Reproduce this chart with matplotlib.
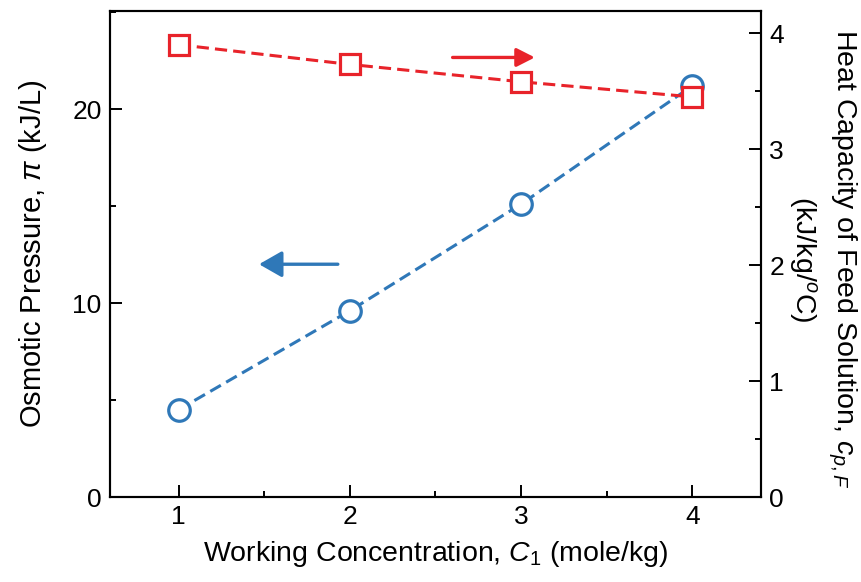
import matplotlib
matplotlib.use('Agg')
import matplotlib.pyplot as plt
from matplotlib.ticker import MultipleLocator

plt.rcParams['font.family'] = ['Liberation Sans', 'DejaVu Sans']
plt.rcParams['mathtext.fontset'] = 'custom'
plt.rcParams['mathtext.rm'] = 'Liberation Sans'
plt.rcParams['mathtext.it'] = 'Liberation Sans:italic'

# working concentration (mole/kg)
conc = [1, 2, 3, 4]
# osmotic pressure (kJ/L), left axis
osmotic = [4.5, 9.6, 15.1, 21.2]
# heat capacity of feed solution (kJ/kg/C), right axis
heat_cap = [3.90, 3.73, 3.58, 3.45]

blue = '#2f78b8'
red = '#e8232a'

fig = plt.figure(figsize=(8.62, 5.82), dpi=100)
ax = fig.add_axes([0.1276, 0.146, 0.7552, 0.835])
ax2 = ax.twinx()

ax.plot(conc, osmotic, color=blue, lw=2.2, dashes=(4, 2), marker='o', ms=15.5,
        mfc='white', mec=blue, mew=2.3)
ax2.plot(conc, heat_cap, color=red, lw=2.2, dashes=(4, 2), marker='s', ms=14.5,
         mfc='white', mec=red, mew=2.3)

ax.set_xlim(0.6, 4.4)
ax.set_ylim(0, 25.05)
ax2.set_ylim(0, 4.19)

ax.xaxis.set_major_locator(MultipleLocator(1))
ax.xaxis.set_minor_locator(MultipleLocator(0.5))
ax.yaxis.set_major_locator(MultipleLocator(10))
ax.yaxis.set_minor_locator(MultipleLocator(5))
ax2.yaxis.set_major_locator(MultipleLocator(1))
ax2.yaxis.set_minor_locator(MultipleLocator(0.5))

for a in (ax, ax2):
    a.tick_params(which='major', direction='in', length=8.5, width=1.4,
                  labelsize=19, pad=6)
    a.tick_params(which='minor', direction='in', length=4.5, width=1.4)
    for s in a.spines.values():
        s.set_linewidth(1.5)

ax.set_xlabel('Working Concentration, $C_1$ (mole/kg)', fontsize=20.5, labelpad=7)
ax.set_ylabel('Osmotic Pressure, $\\pi$ (kJ/L)', fontsize=21, labelpad=17)
ax2.text(1.095, 0.49, 'Heat Capacity of Feed Solution, $c_{p,F}$\n(kJ/kg/$^o$C)',
         transform=ax2.transAxes, rotation=270, ha='center', va='center',
         multialignment='center', fontsize=20.5, linespacing=1.3)

# direction arrows
ax.annotate('', xy=(1.47, 12.0), xytext=(1.93, 12.0),
            arrowprops=dict(arrowstyle='-|>,head_length=0.7,head_width=0.4',
                            color=blue, lw=2.4, mutation_scale=20,
                            shrinkA=0, shrinkB=0))
ax2.annotate('', xy=(3.08, 3.79), xytext=(2.60, 3.79),
             arrowprops=dict(arrowstyle='-|>,head_length=0.55,head_width=0.28',
                             color=red, lw=2.4, mutation_scale=20,
                             shrinkA=0, shrinkB=0))

fig.savefig('out.png', dpi=100)
